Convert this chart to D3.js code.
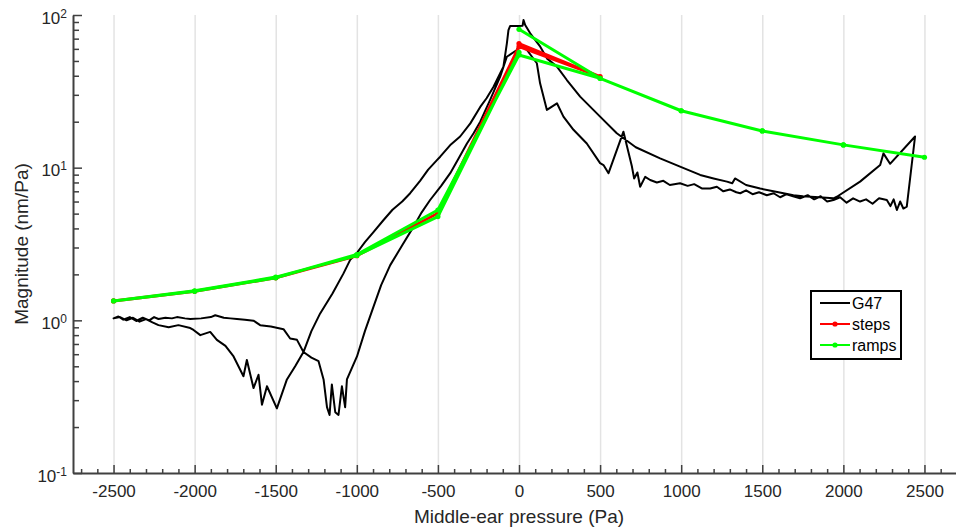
<!DOCTYPE html>
<html>
<head>
<meta charset="utf-8">
<script src="https://cdn.jsdelivr.net/npm/d3@7"></script>
<style>
  body { margin: 0; background: #fff; }
  svg { display: block; font-family: "Liberation Sans", Arial, sans-serif; }
</style>
</head>
<body>
<div id="chart"></div>
<script>
// ---- data ----
const xTicks = [-2500, -2000, -1500, -1000, -500, 0, 500, 1000, 1500, 2000, 2500];
const yTicks = [0.1, 1, 10, 100];

// G47 trace, in four legs
const g47OutP = [1, 49, 110, 130, 172, 234, 274, 336, 418, 500, 521, 552, 644, 696, 710, 730, 747, 778, 809, 850, 890, 930, 993, 1040, 1080, 1130, 1179, 1220, 1260, 1300, 1340, 1364, 1400, 1440, 1480, 1528, 1570, 1610, 1650, 1690, 1733, 1780, 1820, 1860, 1900, 1939, 1980, 2020, 2060, 2103, 2140, 2180, 2220, 2268, 2290, 2310, 2330, 2350, 2370, 2391];
const g47OutV = [63.6, 59, 48.3, 35.7, 23.9, 26.4, 21.6, 17.7, 14.4, 10.7, 10.4, 9.2, 17.2, 10.2, 8.5, 9.3, 7.5, 8.7, 8.3, 8.0, 8.2, 7.7, 7.9, 7.6, 7.8, 7.3, 7.3, 7.5, 7.0, 7.2, 6.9, 6.8, 7.1, 6.7, 6.9, 6.6, 6.8, 6.4, 6.7, 6.5, 6.3, 6.6, 6.2, 6.5, 6.0, 6.14, 6.4, 5.9, 6.3, 6.0, 6.2, 5.8, 6.3, 6.14, 5.6, 6.2, 5.28, 6.0, 5.4, 5.55];
const g47BackP = [2442, 2288, 2247, 2227, 2103, 1960, 1939, 1850, 1750, 1692, 1600, 1487, 1400, 1332, 1315, 1282, 1200, 1117, 993, 870, 720, 603, 500, 377, 295, 234, 172, 131, 69, 38, 28, 22];
const g47BackV = [16.0, 10.6, 12.4, 10.4, 8.1, 6.45, 6.3, 6.4, 6.5, 6.6, 6.9, 7.3, 7.7, 8.5, 7.9, 8.1, 8.5, 8.96, 10.15, 11.5, 13.6, 16.8, 21.6, 29.2, 37.5, 45.9, 52, 62, 75.9, 86, 92.7, 85];
const g47NegP = [-3, -55, -65, -75, -96, -157, -200, -239, -300, -363, -420, -486, -506, -560, -610, -671, -720, -780, -835, -900, -950, -1000, -1041, -1082, -1150, -1226, -1280, -1329, -1380, -1431, -1493, -1554, -1585, -1606, -1637, -1678, -1699, -1760, -1810, -1863, -1904, -1965, -2007, -2027, -2100, -2160, -2223, -2260, -2300, -2340, -2380, -2420, -2460, -2500];
const g47NegV = [84.7, 84.7, 79.7, 65, 45.9, 33.9, 28.5, 25, 19.5, 16, 14.2, 11.8, 11.2, 9.7, 8.2, 6.8, 6.0, 5.3, 4.54, 3.75, 3.25, 2.76, 2.49, 2.03, 1.5, 1.11, 0.85, 0.62, 0.5, 0.41, 0.265, 0.37, 0.28, 0.44, 0.36, 0.55, 0.43, 0.58, 0.68, 0.745, 0.84, 0.80, 0.865, 0.89, 0.93, 0.9, 0.93, 0.97, 1.02, 0.98, 1.04, 1.0, 1.05, 1.03];
const g47RetP = [-2500, -2470, -2440, -2400, -2360, -2320, -2280, -2250, -2223, -2180, -2140, -2109, -2060, -2027, -1960, -1900, -1873, -1820, -1780, -1739, -1690, -1637, -1596, -1530, -1452, -1411, -1369, -1329, -1280, -1236, -1205, -1184, -1168, -1154, -1133, -1113, -1092, -1072, -1061, -999, -950, -897, -850, -794, -720, -650, -600, -548, -480, -424, -370, -321, -280, -239, -178, -116, -75, -13, 1];
const g47RetV = [1.03, 1.06, 1.01, 1.05, 0.99, 1.04, 1.0, 1.05, 1.02, 1.04, 1.03, 1.05, 1.03, 1.02, 1.03, 1.05, 1.08, 1.04, 1.03, 1.02, 1.01, 0.995, 0.93, 0.91, 0.875, 0.76, 0.745, 0.62, 0.57, 0.54, 0.41, 0.27, 0.24, 0.38, 0.25, 0.24, 0.37, 0.27, 0.41, 0.58, 0.85, 1.23, 1.7, 2.3, 3.1, 4.11, 5.1, 6.14, 7.6, 9.2, 11.6, 14.4, 16.8, 20, 27.8, 39.5, 53.3, 59, 63.6];

const stepsP = [0, 500, 0, -500, -1000, -1500, -2000, -2500];
const stepsV = [65, 39.5, 62, 5.03, 2.65, 1.9, 1.55, 1.34];

const rampsP = [0, 500, 1000, 1500, 2000, 2500, 2000, 1500, 1000, 500, 0, -500, -1000, -1500, -2000, -2500, -2000, -1500, -1000, -500, 0];
const rampsV = [80.6, 38.5, 23.6, 17.4, 14.1, 11.7, 14.1, 17.4, 23.6, 38.5, 54.7, 5.28, 2.7, 1.9, 1.55, 1.34, 1.56, 1.92, 2.66, 4.78, 57];

// ---- layout ----
const width = 956, height = 529;
const plotLeft = 73, plotRight = 965, plotTop = 15, plotBottom = 473;
const textColor = "#262626", axisColor = "#404040";

const svg = d3.select("#chart").append("svg")
  .attr("width", width).attr("height", height);

const x = d3.scaleLinear().domain([-2750, 2750]).range([plotLeft, plotRight]);
const y = d3.scaleLog().domain([0.1, 100]).range([plotBottom, plotTop]);

function zip(ps, vs) { return ps.map((p, i) => [p, vs[i]]); }

// vertical grid
svg.append("g")
  .attr("transform", "translate(0," + plotBottom + ")")
  .call(d3.axisBottom(x).tickValues(xTicks).tickSize(-(plotBottom - plotTop)).tickFormat(""))
  .call(g => g.select(".domain").remove())
  .call(g => g.selectAll(".tick line").attr("stroke", "#e3e3e3").attr("stroke-width", 1.5));

// series
const line = d3.line().x(d => x(d[0])).y(d => y(d[1]));

const g47 = [].concat(zip(g47OutP, g47OutV), zip(g47BackP, g47BackV), zip(g47NegP, g47NegV), zip(g47RetP, g47RetV));
svg.append("path").datum(g47)
  .attr("d", line).attr("fill", "none")
  .attr("stroke", "#000").attr("stroke-width", 2).attr("stroke-linejoin", "round");

function drawSeries(pts, color) {
  svg.append("path").datum(pts)
    .attr("d", line).attr("fill", "none")
    .attr("stroke", color).attr("stroke-width", 3).attr("stroke-linejoin", "round");
  svg.append("g").selectAll("circle").data(pts).join("circle")
    .attr("cx", d => x(d[0])).attr("cy", d => y(d[1])).attr("r", 2.6)
    .attr("fill", color);
}
drawSeries(zip(stepsP, stepsV), "#ff0000");
drawSeries(zip(rampsP, rampsV), "#00ff00");

// x axis
const xMinor = d3.range(-2700, 2800, 100).filter(v => v % 500 !== 0);
svg.append("g")
  .attr("transform", "translate(0," + plotBottom + ")")
  .call(d3.axisBottom(x).tickValues(xMinor).tickSize(-4).tickFormat("").tickSizeOuter(0))
  .call(g => g.select(".domain").remove())
  .call(g => g.selectAll(".tick line").attr("stroke", axisColor).attr("stroke-width", 1.5));
svg.append("g")
  .attr("transform", "translate(0," + plotBottom + ")")
  .call(d3.axisBottom(x).tickValues(xTicks).tickSize(-8).tickSizeOuter(0).tickPadding(12).tickFormat(d => d))
  .call(g => g.select(".domain").attr("stroke", axisColor).attr("stroke-width", 2))
  .call(g => g.selectAll(".tick line").attr("stroke", axisColor).attr("stroke-width", 1.5))
  .call(g => g.selectAll(".tick text").attr("fill", textColor).style("font-size", "17px"));

// y axis
const yMinor = [];
[0.1, 1, 10].forEach(d => { for (let k = 2; k <= 9; k++) yMinor.push(d * k); });
svg.append("g")
  .attr("transform", "translate(" + plotLeft + ",0)")
  .call(d3.axisLeft(y).tickValues(yMinor).tickSize(-6).tickFormat(""))
  .call(g => g.select(".domain").remove())
  .call(g => g.selectAll(".tick line").attr("stroke", axisColor).attr("stroke-width", 1.5));
svg.append("g")
  .attr("transform", "translate(" + plotLeft + ",0)")
  .call(d3.axisLeft(y).tickValues(yTicks).tickSize(-9).tickSizeOuter(0).tickPadding(6).tickFormat(""))
  .call(g => g.select(".domain").attr("stroke", axisColor).attr("stroke-width", 2))
  .call(g => g.selectAll(".tick line").attr("stroke", axisColor).attr("stroke-width", 1.5))
  .call(g => g.selectAll(".tick text").each(function (d) {
    const t = d3.select(this).attr("fill", textColor).style("font-size", "17px").attr("dy", "0.48em");
    t.append("tspan").text("10");
    t.append("tspan").attr("dy", "-0.5em").style("font-size", "12px").text(Math.round(Math.log10(d)));
  }));

// axis labels
svg.append("text")
  .attr("x", x(0)).attr("y", 523)
  .attr("text-anchor", "middle").attr("fill", textColor).style("font-size", "19px")
  .text("Middle-ear pressure (Pa)");
svg.append("text")
  .attr("transform", "translate(28," + (plotTop + plotBottom) / 2 + ") rotate(-90)")
  .attr("text-anchor", "middle").attr("fill", textColor).style("font-size", "19px")
  .text("Magnitude (nm/Pa)");

// legend
const legendItems = ["G47", "steps", "ramps"];
const legendColors = ["#000000", "#ff0000", "#00ff00"];
const lg = svg.append("g");
lg.append("rect").attr("x", 811).attr("y", 291).attr("width", 90).attr("height", 68)
  .attr("fill", "#fff").attr("stroke", "#000").attr("stroke-width", 2);
legendItems.forEach((name, i) => {
  const cy = 303 + i * 21;
  lg.append("line").attr("x1", 820).attr("x2", 850).attr("y1", cy).attr("y2", cy)
    .attr("stroke", legendColors[i]).attr("stroke-width", 2);
  if (i > 0) lg.append("circle").attr("cx", 835).attr("cy", cy).attr("r", 2.6).attr("fill", legendColors[i]);
  lg.append("text").attr("x", 852).attr("y", cy).attr("dy", "0.35em")
    .attr("fill", "#000").style("font-size", "16px").text(name);
});
</script>
</body>
</html>
